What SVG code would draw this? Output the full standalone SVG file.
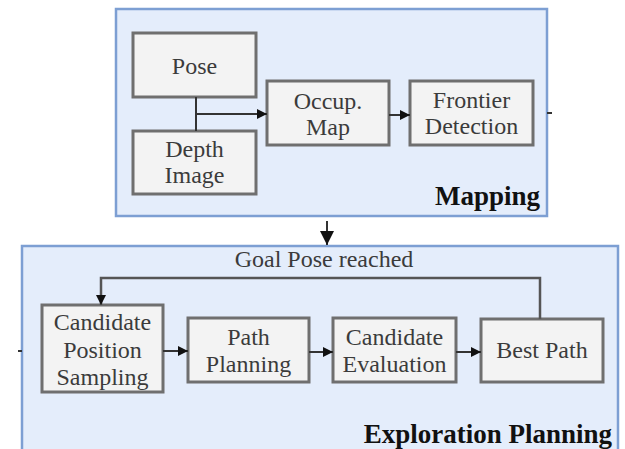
<svg xmlns="http://www.w3.org/2000/svg" width="625" height="449" viewBox="0 0 625 449">
<defs>
<style>
.grp{fill:#e4edfb;stroke:#7d9fd3;stroke-width:2.5}
.box{fill:#f3f3f3;stroke:#6f6f6f;stroke-width:3}
.t{font-family:"Liberation Serif","Times New Roman",serif;font-size:24px;fill:#3b3b3b;text-anchor:middle}
.title{font-family:"Liberation Serif","Times New Roman",serif;font-size:27px;font-weight:bold;fill:#111;text-anchor:end}
.c{fill:none;stroke:#333;stroke-width:2}
.loop{fill:none;stroke:#555;stroke-width:2.5}
</style>
<marker id="ah" viewBox="0 0 10 10" refX="10" refY="5" markerWidth="10" markerHeight="10" markerUnits="userSpaceOnUse" orient="auto">
<path d="M0,0 L10,5 L0,10 z" fill="#111"/>
</marker>
<marker id="ahb" viewBox="0 0 10 10" refX="10" refY="5" markerWidth="14" markerHeight="14" markerUnits="userSpaceOnUse" orient="auto">
<path d="M0,0 L10,5 L0,10 z" fill="#111"/>
</marker>
</defs>
<g id="mapping">
<rect class="grp" x="116" y="9" width="431" height="207"/>
<text class="title" x="540" y="205">Mapping</text>
</g>
<g id="exploration">
<rect class="grp" x="22" y="246" width="596" height="220"/>
<text class="title" x="612" y="443">Exploration Planning</text>
</g>
<g id="pose">
<rect class="box" x="133" y="33" width="123" height="64"/>
<text class="t" x="194.5" y="74">Pose</text>
</g>
<g id="depth">
<rect class="box" x="133" y="131" width="123" height="63"/>
<text class="t" x="194.5" y="157">Depth</text>
<text class="t" x="194.5" y="183">Image</text>
</g>
<g id="occup">
<rect class="box" x="267" y="81" width="122" height="64"/>
<text class="t" x="328" y="109">Occup.</text>
<text class="t" x="328" y="135">Map</text>
</g>
<g id="frontier">
<rect class="box" x="410" y="81" width="123" height="64"/>
<text class="t" x="471.5" y="108">Frontier</text>
<text class="t" x="471.5" y="134">Detection</text>
</g>
<g id="cps">
<rect class="box" x="42" y="305" width="121" height="87"/>
<text class="t" x="102.5" y="330">Candidate</text>
<text class="t" x="102.5" y="358">Position</text>
<text class="t" x="102.5" y="385">Sampling</text>
</g>
<g id="pathplanning">
<rect class="box" x="188" y="318" width="121" height="64"/>
<text class="t" x="248.5" y="345">Path</text>
<text class="t" x="248.5" y="372">Planning</text>
</g>
<g id="eval">
<rect class="box" x="333" y="318" width="123" height="64"/>
<text class="t" x="394.5" y="345">Candidate</text>
<text class="t" x="394.5" y="372">Evaluation</text>
</g>
<g id="best">
<rect class="box" x="481" y="319" width="122" height="63"/>
<text class="t" x="542" y="358">Best Path</text>
</g>
<g id="connectors">
<path class="c" d="M196,97 V131"/>
<path class="c" d="M196,114 H267" marker-end="url(#ah)"/>
<path class="c" d="M389,115 H410" marker-end="url(#ah)"/>
<path class="c" d="M547,113 H552" stroke="#111" stroke-width="3"/>
<path class="c" d="M327,221 V245" marker-end="url(#ahb)"/>
<path class="c" d="M18,351 H22" stroke="#111" stroke-width="3"/>
<path class="c" d="M163,351 H188" marker-end="url(#ah)"/>
<path class="c" d="M309,352 H333" marker-end="url(#ah)"/>
<path class="c" d="M456,352 H481" marker-end="url(#ah)"/>
<path class="loop" d="M540,319 V278 H101 V305" marker-end="url(#ah)"/>
<text class="t" x="324" y="267">Goal Pose reached</text>
</g>
</svg>
